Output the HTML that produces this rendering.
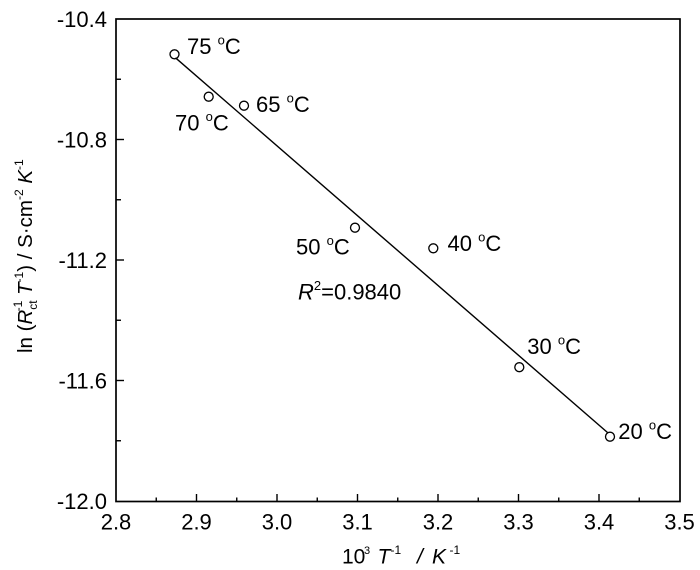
<!DOCTYPE html>
<html><head><meta charset="utf-8"><style>
html,body{margin:0;padding:0;background:#fff;}
svg{display:block;}
text{font-family:"Liberation Sans",Arial,sans-serif;fill:#000;}
</style></head><body>
<svg width="700" height="570" viewBox="0 0 700 570" xmlns="http://www.w3.org/2000/svg">
<rect x="0" y="0" width="700" height="570" fill="#fff"/>
<!-- frame -->
<rect x="116" y="19" width="564" height="482.5" fill="none" stroke="#000" stroke-width="1.7"/>
<!-- x ticks -->
<g stroke="#000" stroke-width="1.4">
<line x1="196.5" y1="501.5" x2="196.5" y2="494"/>
<line x1="277" y1="501.5" x2="277" y2="494"/>
<line x1="357.5" y1="501.5" x2="357.5" y2="494"/>
<line x1="438" y1="501.5" x2="438" y2="494"/>
<line x1="518.5" y1="501.5" x2="518.5" y2="494"/>
<line x1="599" y1="501.5" x2="599" y2="494"/>
<line x1="156.25" y1="501.5" x2="156.25" y2="497.5"/>
<line x1="236.75" y1="501.5" x2="236.75" y2="497.5"/>
<line x1="317.25" y1="501.5" x2="317.25" y2="497.5"/>
<line x1="397.75" y1="501.5" x2="397.75" y2="497.5"/>
<line x1="478.25" y1="501.5" x2="478.25" y2="497.5"/>
<line x1="558.75" y1="501.5" x2="558.75" y2="497.5"/>
<line x1="639.25" y1="501.5" x2="639.25" y2="497.5"/>
<!-- y ticks -->
<line x1="116" y1="139.5" x2="124" y2="139.5"/>
<line x1="116" y1="260" x2="124" y2="260"/>
<line x1="116" y1="380.5" x2="124" y2="380.5"/>
<line x1="116" y1="79.25" x2="121" y2="79.25"/>
<line x1="116" y1="199.75" x2="121" y2="199.75"/>
<line x1="116" y1="320.25" x2="121" y2="320.25"/>
<line x1="116" y1="440.75" x2="121" y2="440.75"/>
</g>
<!-- x tick labels -->
<g font-size="22" text-anchor="middle">
<text x="116" y="529.5">2.8</text>
<text x="196.5" y="529.5">2.9</text>
<text x="277" y="529.5">3.0</text>
<text x="357.5" y="529.5">3.1</text>
<text x="438" y="529.5">3.2</text>
<text x="518.5" y="529.5">3.3</text>
<text x="599" y="529.5">3.4</text>
<text x="679.5" y="529.5">3.5</text>
</g>
<!-- y tick labels -->
<g font-size="22" text-anchor="end">
<text x="107" y="27">-10.4</text>
<text x="107" y="147.5">-10.8</text>
<text x="107" y="268">-11.2</text>
<text x="107" y="388.5">-11.6</text>
<text x="107" y="509">-12.0</text>
</g>
<!-- fit line -->
<line x1="175.5" y1="57.8" x2="607.5" y2="432.5" stroke="#000" stroke-width="1.4"/>
<!-- points -->
<g fill="none" stroke="#000" stroke-width="1.3">
<circle cx="174.5" cy="54.3" r="4.5"/>
<circle cx="208.7" cy="96.7" r="4.5"/>
<circle cx="244" cy="105.7" r="4.5"/>
<circle cx="355" cy="227.7" r="4.5"/>
<circle cx="433.3" cy="248.3" r="4.5"/>
<circle cx="519.3" cy="367.2" r="4.5"/>
<circle cx="610" cy="436.7" r="4.5"/>
</g>
<!-- point labels -->
<g font-size="22">
<text x="187" y="53.8">75 <tspan font-size="13" dy="-9.5">o</tspan><tspan dy="9.5">C</tspan></text>
<text x="175" y="130.5">70 <tspan font-size="13" dy="-9.5">o</tspan><tspan dy="9.5">C</tspan></text>
<text x="256" y="112">65 <tspan font-size="13" dy="-9.5">o</tspan><tspan dy="9.5">C</tspan></text>
<text x="296" y="254.5">50 <tspan font-size="13" dy="-9.5">o</tspan><tspan dy="9.5">C</tspan></text>
<text x="447.5" y="251">40 <tspan font-size="13" dy="-9.5">o</tspan><tspan dy="9.5">C</tspan></text>
<text x="527.3" y="353.8">30 <tspan font-size="13" dy="-9.5">o</tspan><tspan dy="9.5">C</tspan></text>
<text x="618.3" y="438.8">20 <tspan font-size="13" dy="-9.5">o</tspan><tspan dy="9.5">C</tspan></text>
<text x="298" y="299.5"><tspan font-style="italic">R</tspan><tspan font-size="13" dy="-9.5">2</tspan><tspan dy="9.5">=0.9840</tspan></text>
</g>
<!-- x axis title -->
<g font-size="21">
<text x="342" y="563.5">10</text>
<text x="364" y="554" font-size="11">3</text>
<text x="377.5" y="563.5" font-style="italic">T</text>
<text x="390.5" y="554" font-size="12">-1</text>
<text x="417" y="563.5" font-style="italic">/</text>
<text x="432" y="563.5" font-style="italic">K</text>
<text x="449.5" y="554" font-size="12">-1</text>
</g>
<!-- y axis title -->
<g transform="translate(32,353) rotate(-90)" font-size="20.5">
<text x="0" y="0">ln (<tspan font-style="italic">R</tspan><tspan font-size="12" dy="5">ct</tspan><tspan font-size="12" dx="-11" dy="-15">-1</tspan><tspan dy="10"> </tspan><tspan font-style="italic">T</tspan><tspan font-size="12" dy="-9">-1</tspan><tspan dy="9">) / S·cm</tspan><tspan font-size="12" dy="-9">-2</tspan><tspan dy="9"> </tspan><tspan font-style="italic">K</tspan><tspan font-size="12" dy="-9">-1</tspan></text>
</g>
</svg>
</body></html>
